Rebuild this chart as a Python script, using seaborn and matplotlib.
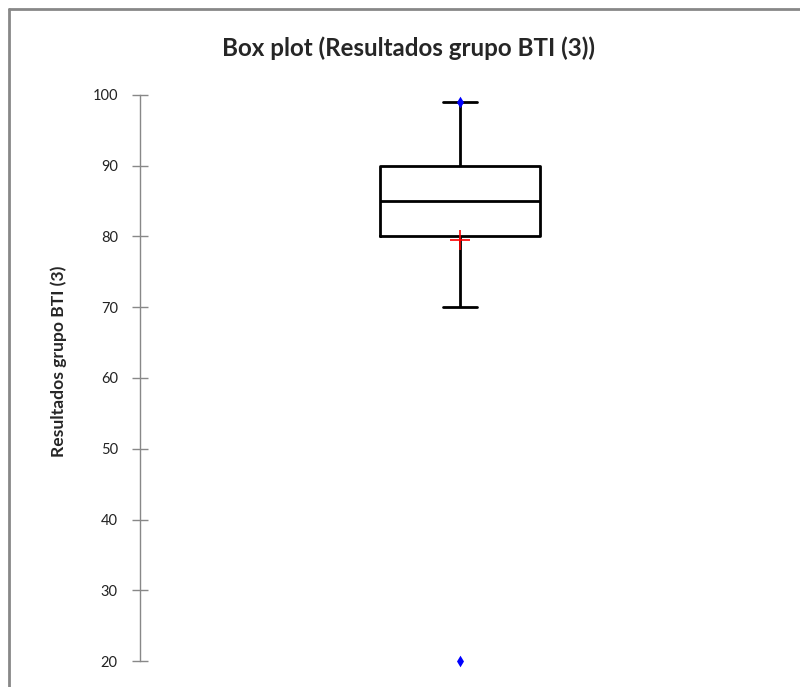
import numpy as np
import pandas as pd
import matplotlib
matplotlib.use("Agg")
import matplotlib.pyplot as plt
from matplotlib.lines import Line2D
import seaborn as sns

# Scores of the BTI (3) group
scores = [20, 70, 75, 80, 80, 82, 85, 85, 88, 90, 90, 90, 99]
group = "Resultados grupo BTI (3)"
y_ticks = [20, 30, 40, 50, 60, 70, 80, 90, 100]

df = pd.DataFrame({"grupo": [group] * len(scores), "valor": scores})

sns.set_theme(style="white")
plt.rcParams["font.family"] = ["Lato", "DejaVu Sans"]

fig = plt.figure(figsize=(8.0, 6.87), dpi=100)
ax = fig.add_axes([0.175, 0.0378, 0.80, 0.824])

line_kw = dict(color="black", linewidth=2.0)
sns.boxplot(
    data=df, x="grupo", y="valor", ax=ax,
    width=0.25, fill=False, showfliers=False,
    whis=1.5, color="black",
    boxprops=line_kw,
    medianprops=line_kw, whiskerprops=line_kw, capprops=line_kw,
    capwidths=0.053,
    showmeans=True,
    meanprops=dict(marker="+", markeredgecolor="red", markerfacecolor="red",
                   markersize=15, markeredgewidth=1.2),
)

# Minimum and maximum marked as blue diamonds
extremes = pd.DataFrame({"grupo": [group, group],
                         "valor": [min(scores), max(scores)]})
sns.scatterplot(data=extremes, x="grupo", y="valor", ax=ax, marker="d",
                color="#0000FF", s=35, linewidth=0, zorder=5, clip_on=False)

ax.set_xlim(-0.5, 0.5)
ax.set_ylim(20, 100)
ax.set_yticks(y_ticks)
ax.set_yticklabels([str(t) for t in y_ticks], fontsize=10.5, color="#222222")
ax.set_xticks([])
ax.set_xlabel("")
ax.set_ylabel(group, fontsize=12.6, fontweight="bold")
ax.yaxis.set_label_coords(-0.114, 0.53)
ax.tick_params(axis="y", direction="inout", length=12, width=1,
               color="#888888", pad=10, left=True)

for side in ("top", "right", "bottom"):
    ax.spines[side].set_visible(False)
ax.spines["left"].set_color("#888888")
ax.spines["left"].set_linewidth(1.0)

fig.suptitle("Box plot (Resultados grupo BTI (3))", x=0.51, y=0.9476,
             fontsize=17.4, fontweight="bold")

# Chart frame (top and left edges)
fig.add_artist(Line2D([9 / 800, 1.0], [1 - 9 / 687, 1 - 9 / 687],
                      transform=fig.transFigure, color="#888888", linewidth=2))
fig.add_artist(Line2D([9 / 800, 9 / 800], [0.0, 1 - 9 / 687],
                      transform=fig.transFigure, color="#888888", linewidth=2))

fig.savefig("out.png", dpi=100, facecolor="white")
